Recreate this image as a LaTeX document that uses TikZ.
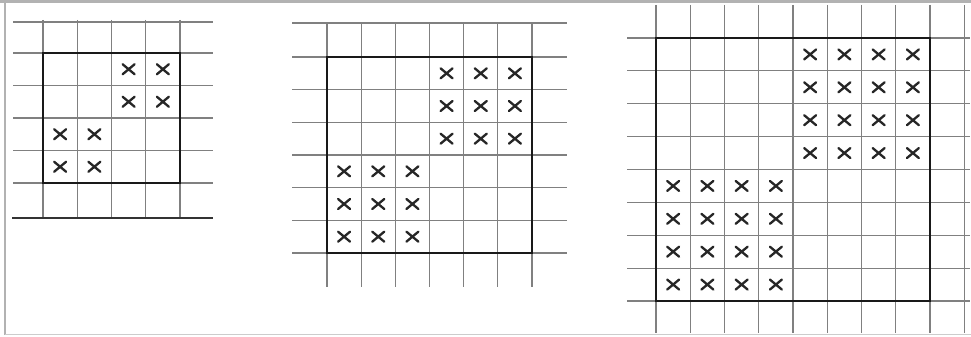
\documentclass[tikz,border=0pt]{standalone}
\begin{document}
\begin{tikzpicture}[x=1pt,y=-1pt,
  thingrid/.style={draw=black!50, line width=1.1pt},
  framel/.style={draw=gray!60, line width=2.6pt},
  boldsq/.style={draw=black!90, line width=2.8pt},
  bottomrule/.style={draw=black!80, line width=2.6pt},
  xmark/.pic={\draw[black!85, line width=2.3pt, line cap=round] (-6,-5)--(6,5) (-6,5)--(6,-5);}
]
\useasboundingbox (0,0) rectangle (971,337);
\fill[white] (0,0) rectangle (971,337);
% outer frame
\draw[framel] (0,1.5) -- (971,1.5);
\draw[draw=gray!60, line width=1.8pt] (5,1.5) -- (5,335);
\draw[draw=gray!40, line width=1.2pt] (5,334.5) -- (971,334.5);

% ---------- left grid (4x4) ----------
\foreach \y in {22,53,85.5,118,150.5,183} \draw[thingrid] (13,\y) -- (213,\y);
\foreach \i in {0,...,4} \draw[thingrid] ({43+34.25*\i},20) -- ({43+34.25*\i},218);
\draw[bottomrule] (12,218) -- (213,218);
\draw[boldsq] (43,53) rectangle (180,183);
\foreach \c in {2,3} \foreach \r in {0,1}
  \pic at ({43+34.25*(\c+0.5)},{53+32.5*(\r+0.5)}) {xmark};
\foreach \c in {0,1} \foreach \r in {2,3}
  \pic at ({43+34.25*(\c+0.5)},{53+32.5*(\r+0.5)}) {xmark};

% ---------- middle grid (6x6) ----------
\draw[thingrid] (292,23) -- (567,23);
\foreach \i in {0,...,6} \draw[thingrid] (292,{57+32.667*\i}) -- (567,{57+32.667*\i});
\foreach \i in {0,...,6} \draw[thingrid] ({327+34.167*\i},23) -- ({327+34.167*\i},287);
\draw[boldsq] (327,57) rectangle (532,253);
\foreach \c in {3,4,5} \foreach \r in {0,1,2}
  \pic at ({327+34.167*(\c+0.5)},{57+32.667*(\r+0.5)}) {xmark};
\foreach \c in {0,1,2} \foreach \r in {3,4,5}
  \pic at ({327+34.167*(\c+0.5)},{57+32.667*(\r+0.5)}) {xmark};

% ---------- right grid (8x8) ----------
\foreach \i in {0,...,8} \draw[thingrid] (627,{38+32.875*\i}) -- (970,{38+32.875*\i});
\foreach \i in {0,...,9} \draw[thingrid] ({656+34.25*\i},5) -- ({656+34.25*\i},333);
\draw[boldsq] (656,38) rectangle (930,301);
\foreach \c in {4,5,6,7} \foreach \r in {0,1,2,3}
  \pic at ({656+34.25*(\c+0.5)},{38+32.875*(\r+0.5)}) {xmark};
\foreach \c in {0,1,2,3} \foreach \r in {4,5,6,7}
  \pic at ({656+34.25*(\c+0.5)},{38+32.875*(\r+0.5)}) {xmark};
\end{tikzpicture}
\end{document}
